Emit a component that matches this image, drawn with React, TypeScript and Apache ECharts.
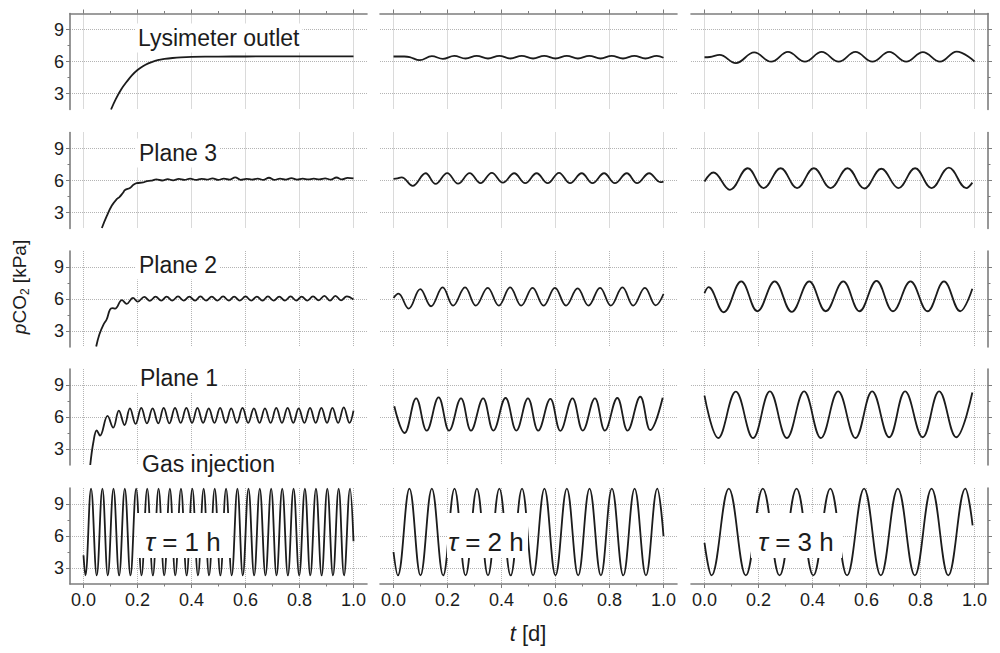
import React, { useEffect, useRef } from 'react';
import * as echarts from 'echarts';

type Pt = [number, number];

const rowLabels = ['Lysimeter outlet', 'Plane 3', 'Plane 2', 'Plane 1', 'Gas injection'];
const periodLabels = ['1 h', '2 h', '3 h'];
const xTicks = [0, 0.2, 0.4, 0.6, 0.8, 1.0];
const xMinorTicks = [0.1, 0.3, 0.5, 0.7, 0.9];
const yTicks = [3, 6, 9];
const yMinorTicks = [4.5, 7.5];

// ---- Lysimeter outlet ----
const lysimeter1h: Pt[] = [
  [0.102, 1.5], [0.12, 2.5], [0.14, 3.4], [0.16, 4.1], [0.18, 4.72], [0.2, 5.2], [0.22, 5.55],
  [0.24, 5.82], [0.26, 6.02], [0.28, 6.15], [0.3, 6.24], [0.33, 6.33], [0.36, 6.39], [0.4, 6.43],
  [0.5, 6.46], [0.6, 6.47], [0.8, 6.48], [1.0, 6.48],
];
const lysimeter2h: Pt[] = [
  [0, 6.47], [0.04, 6.47], [0.06, 6.42], [0.097, 6.12], [0.142, 6.5], [0.183, 6.25], [0.225, 6.52],
  [0.267, 6.28], [0.308, 6.53], [0.35, 6.28], [0.392, 6.53], [0.433, 6.28], [0.475, 6.53], [0.517, 6.28],
  [0.558, 6.53], [0.6, 6.28], [0.642, 6.53], [0.683, 6.28], [0.725, 6.53], [0.767, 6.28], [0.808, 6.53],
  [0.85, 6.28], [0.892, 6.53], [0.933, 6.28], [0.975, 6.53], [1.0, 6.35],
];
const lysimeter3h: Pt[] = [
  [0, 6.4], [0.02, 6.42], [0.056, 6.62], [0.116, 5.85], [0.184, 6.85], [0.247, 5.98], [0.309, 6.9],
  [0.372, 5.98], [0.434, 6.9], [0.497, 5.98], [0.559, 6.9], [0.622, 5.98], [0.684, 6.9], [0.747, 5.98],
  [0.809, 6.88], [0.872, 5.98], [0.934, 6.92], [1.0, 6.0],
];

// ---- Plane 3 ----
const plane3_1h: Pt[] = [
  [0.068, 1.55], [0.086, 2.65], [0.105, 3.65], [0.123, 4.25], [0.133, 4.45], [0.145, 4.8], [0.154, 5.1],
  [0.172, 5.3], [0.185, 5.6], [0.197, 5.75], [0.221, 5.82], [0.235, 5.95], [0.25, 5.98], [0.27, 6.1],
  [0.291, 6.0], [0.312, 6.12], [0.332, 6.02], [0.353, 6.15], [0.374, 6.05], [0.395, 6.18], [0.416, 6.05],
  [0.437, 6.16], [0.457, 6.08], [0.478, 6.2], [0.499, 6.05], [0.52, 6.18], [0.541, 6.08], [0.562, 6.3],
  [0.582, 6.06], [0.603, 6.16], [0.624, 6.08], [0.645, 6.18], [0.666, 6.05], [0.687, 6.26], [0.707, 6.05],
  [0.728, 6.18], [0.749, 6.08], [0.77, 6.22], [0.791, 6.08], [0.812, 6.18], [0.832, 6.1], [0.853, 6.18],
  [0.874, 6.1], [0.895, 6.2], [0.916, 6.08], [0.937, 6.28], [0.957, 6.1], [0.978, 6.25], [1.0, 6.2],
];
const plane3_2h: Pt[] = [
  [0, 6.15], [0.015, 6.2], [0.029, 6.3], [0.04, 6.2], [0.071, 5.5], [0.119, 6.68], [0.156, 5.68],
  [0.199, 6.7], [0.239, 5.7], [0.282, 6.7], [0.322, 5.75], [0.364, 6.72], [0.405, 5.8], [0.447, 6.68],
  [0.488, 5.75], [0.53, 6.68], [0.571, 5.75], [0.613, 6.72], [0.654, 5.75], [0.697, 6.68], [0.737, 5.75],
  [0.78, 6.68], [0.82, 5.75], [0.864, 6.68], [0.902, 5.75], [0.947, 6.68], [0.988, 5.85], [1.0, 5.9],
];
const plane3_3h: Pt[] = [
  [0, 5.9], [0.033, 6.75], [0.094, 5.13], [0.16, 7.15], [0.219, 5.29], [0.282, 7.15], [0.343, 5.29],
  [0.405, 7.15], [0.467, 5.29], [0.53, 7.15], [0.592, 5.25], [0.655, 7.1], [0.718, 5.29], [0.78, 7.15],
  [0.841, 5.29], [0.905, 7.2], [0.97, 5.29], [0.992, 5.8],
];

// ---- Plane 2 ----
const plane2_1h: Pt[] = [
  [0.047, 1.55], [0.059, 2.7], [0.074, 3.6], [0.086, 4.1], [0.098, 5.0], [0.107, 5.15], [0.117, 5.1],
  [0.142, 5.9], [0.16, 5.55], [0.183, 6.1], [0.201, 5.75], [0.225, 6.2], [0.246, 5.82], [0.267, 6.22],
  [0.288, 5.85], [0.308, 6.22], [0.329, 5.85], [0.35, 6.25], [0.371, 5.85], [0.392, 6.22], [0.413, 5.85],
  [0.433, 6.25], [0.454, 5.85], [0.475, 6.22], [0.496, 5.85], [0.517, 6.25], [0.538, 5.85], [0.558, 6.22],
  [0.579, 5.85], [0.6, 6.25], [0.621, 5.85], [0.642, 6.22], [0.663, 5.85], [0.683, 6.25], [0.704, 5.85],
  [0.725, 6.22], [0.746, 5.85], [0.767, 6.25], [0.788, 5.85], [0.808, 6.22], [0.829, 5.85], [0.85, 6.25],
  [0.871, 5.88], [0.892, 6.3], [0.913, 5.85], [0.933, 6.3], [0.954, 5.88], [0.975, 6.25], [1.0, 5.95],
];
const plane2_2h: Pt[] = [
  [0, 6.1], [0.018, 6.5], [0.056, 5.1], [0.099, 6.93], [0.139, 5.32], [0.182, 7.09], [0.221, 5.38],
  [0.265, 7.09], [0.305, 5.38], [0.349, 7.05], [0.39, 5.38], [0.432, 7.09], [0.473, 5.38], [0.515, 7.05],
  [0.556, 5.38], [0.598, 7.05], [0.639, 5.38], [0.682, 7.0], [0.722, 5.38], [0.765, 7.05], [0.805, 5.38],
  [0.848, 7.09], [0.888, 5.38], [0.931, 7.05], [0.971, 5.4], [1.0, 6.47],
];
const plane2_3h: Pt[] = [
  [0, 6.56], [0.015, 7.12], [0.071, 4.76], [0.136, 7.65], [0.196, 4.85], [0.26, 7.65], [0.323, 4.8],
  [0.388, 7.65], [0.449, 4.85], [0.514, 7.65], [0.574, 4.85], [0.637, 7.7], [0.698, 4.85], [0.763, 7.65],
  [0.826, 4.85], [0.887, 7.65], [0.947, 4.85], [0.992, 6.96],
];

// ---- Plane 1 ----
const plane1_1h: Pt[] = [
  [0.025, 1.5], [0.037, 3.7], [0.049, 4.75], [0.061, 4.25], [0.089, 6.1], [0.11, 5.0], [0.131, 6.6],
  [0.152, 5.25], [0.172, 6.8], [0.193, 5.35], [0.214, 6.85], [0.235, 5.4], [0.256, 6.8], [0.277, 5.4],
  [0.297, 6.85], [0.318, 5.4], [0.339, 6.85], [0.36, 5.45], [0.381, 6.85], [0.402, 5.45], [0.422, 6.85],
  [0.443, 5.45], [0.464, 6.8], [0.485, 5.45], [0.506, 6.85], [0.527, 5.45], [0.547, 6.8], [0.568, 5.45],
  [0.589, 6.85], [0.61, 5.45], [0.631, 6.8], [0.652, 5.45], [0.672, 6.8], [0.693, 5.45], [0.714, 6.85],
  [0.735, 5.45], [0.756, 6.85], [0.777, 5.45], [0.797, 6.8], [0.818, 5.45], [0.839, 6.85], [0.86, 5.45],
  [0.881, 6.85], [0.902, 5.45], [0.922, 6.85], [0.943, 5.45], [0.964, 6.9], [0.985, 5.45], [1.0, 6.6],
];
const plane1_2h: Pt[] = [
  [0.003, 7.0], [0.041, 4.5], [0.084, 7.75], [0.123, 4.72], [0.167, 7.84], [0.206, 4.72], [0.25, 7.75],
  [0.287, 4.72], [0.332, 7.75], [0.37, 4.72], [0.415, 7.78], [0.455, 4.72], [0.498, 7.75], [0.536, 4.72],
  [0.581, 7.7], [0.618, 4.7], [0.663, 7.75], [0.701, 4.72], [0.746, 7.75], [0.783, 4.72], [0.829, 7.78],
  [0.867, 4.72], [0.914, 7.9], [0.951, 4.78], [0.997, 7.8],
];
const plane1_3h: Pt[] = [
  [0, 8.0], [0.051, 4.03], [0.116, 8.37], [0.18, 4.03], [0.242, 8.4], [0.305, 4.03], [0.369, 8.4],
  [0.431, 4.03], [0.495, 8.4], [0.559, 4.03], [0.621, 8.4], [0.684, 4.1], [0.743, 8.4], [0.808, 4.1],
  [0.869, 8.4], [0.932, 4.1], [0.992, 8.3],
];

// ---- Gas injection ----
const gas1h: Pt[] = [
  [0, 4.2], [0.007, 2.3], [0.028, 10.45], [0.049, 2.3], [0.07, 10.45], [0.09, 2.3], [0.111, 10.45],
  [0.132, 2.3], [0.153, 10.45], [0.174, 2.3], [0.195, 10.45], [0.215, 2.3], [0.236, 10.45], [0.257, 2.3],
  [0.278, 10.45], [0.299, 2.3], [0.32, 10.45], [0.34, 2.3], [0.361, 10.45], [0.382, 2.3], [0.403, 10.45],
  [0.424, 2.3], [0.445, 10.45], [0.465, 2.3], [0.486, 10.45], [0.507, 2.3], [0.528, 10.45], [0.549, 2.3],
  [0.57, 10.45], [0.59, 2.3], [0.611, 10.45], [0.632, 2.3], [0.653, 10.45], [0.674, 2.3], [0.695, 10.45],
  [0.715, 2.3], [0.736, 10.45], [0.757, 2.3], [0.778, 10.45], [0.799, 2.3], [0.82, 10.45], [0.84, 2.3],
  [0.861, 10.45], [0.882, 2.3], [0.903, 10.45], [0.924, 2.3], [0.945, 10.45], [0.965, 2.3], [0.987, 10.45],
  [1.0, 5.5],
];
const gas2h: Pt[] = [
  [0, 4.5], [0.016, 2.3], [0.059, 10.45], [0.1, 2.3], [0.142, 10.45], [0.184, 2.3], [0.226, 10.45],
  [0.267, 2.3], [0.309, 10.45], [0.35, 2.3], [0.392, 10.45], [0.434, 2.3], [0.476, 10.45], [0.517, 2.3],
  [0.559, 10.45], [0.6, 2.3], [0.642, 10.45], [0.684, 2.3], [0.726, 10.45], [0.768, 2.3], [0.809, 10.45],
  [0.851, 2.3], [0.893, 10.45], [0.935, 2.3], [0.977, 10.45], [1.0, 6.0],
];
const gas3h: Pt[] = [
  [0, 5.35], [0.026, 2.3], [0.09, 10.45], [0.153, 2.3], [0.216, 10.45], [0.278, 2.3], [0.341, 10.45],
  [0.403, 2.3], [0.466, 10.45], [0.528, 2.3], [0.591, 10.45], [0.653, 2.3], [0.716, 10.45], [0.779, 2.3],
  [0.841, 10.45], [0.903, 2.3], [0.966, 10.45], [0.993, 7.0],
];

const panels: Pt[][][] = [
  [lysimeter1h, lysimeter2h, lysimeter3h],
  [plane3_1h, plane3_2h, plane3_3h],
  [plane2_1h, plane2_2h, plane2_3h],
  [plane1_1h, plane1_2h, plane1_3h],
  [gas1h, gas2h, gas3h],
];

// ---- layout ----
const GRID_LEFTS = [70, 380, 691];
const GRID_W = 297;
const GRID_TOPS = [13.5, 132.5, 251, 369, 488];
const GRID_H = 96;
const LABEL_POS: Pt[] = [[135, 38], [136, 153], [136, 265], [137, 378], [139, 464]];
const TAU_BOX = [
  { x: 137, w: 95, cx: 183 },
  { x: 447, w: 81, cx: 486 },
  { x: 751, w: 91, cx: 796 },
];

const FONT = "'Liberation Sans', Arial, Helvetica, sans-serif";
const AX = '#7d7d7d';
const GRIDC = '#b4b4b4';
const TXT = '#1c1c1c';

export default function App() {
  const ref = useRef<HTMLDivElement>(null);

  useEffect(() => {
    if (!ref.current) return;
    const chart = echarts.init(ref.current, null, { renderer: 'svg' });

    const grids: any[] = [];
    const xAxes: any[] = [];
    const yAxes: any[] = [];
    const series: any[] = [];

    for (let r = 0; r < 5; r++) {
      for (let c = 0; c < 3; c++) {
        const i = r * 3 + c;
        grids.push({ left: GRID_LEFTS[c], top: GRID_TOPS[r], width: GRID_W, height: GRID_H });
        const xEdge = r === 0 || r === 4;
        xAxes.push({
          type: 'value',
          gridIndex: i,
          min: -0.05,
          max: 1.05,
          position: r === 0 ? 'top' : 'bottom',
          axisLine: { show: xEdge, onZero: false, lineStyle: { color: AX, width: 1.6 } },
          axisTick: { show: xEdge, customValues: xTicks, length: 4, inside: false, lineStyle: { color: AX, width: 1 } },
          axisLabel: {
            show: r === 4,
            customValues: xTicks,
            formatter: (v: number) => v.toFixed(1),
            margin: 7,
            fontSize: 18,
            fontFamily: FONT,
            color: TXT,
          },
          splitLine: { show: true, lineStyle: { type: 'dotted', color: GRIDC, width: 1 } },
        });
        const yEdge = c === 0 || c === 2;
        yAxes.push({
          type: 'value',
          gridIndex: i,
          min: 1.5,
          max: 10.5,
          position: c === 2 ? 'right' : 'left',
          axisLine: { show: yEdge, onZero: false, lineStyle: { color: AX, width: 1.6 } },
          axisTick: { show: yEdge, customValues: yTicks, length: 4, inside: false, lineStyle: { color: AX, width: 1 } },
          axisLabel: {
            show: c === 0,
            customValues: yTicks,
            margin: 6,
            fontSize: 18,
            fontFamily: FONT,
            color: TXT,
          },
          splitLine: { show: true, lineStyle: { type: 'dotted', color: GRIDC, width: 1 } },
        });
        series.push({
          type: 'line',
          xAxisIndex: i,
          yAxisIndex: i,
          data: panels[r][c],
          showSymbol: false,
          smooth: 0.4,
          silent: true,
          clip: true,
          lineStyle: { color: TXT, width: 1.8 },
        });
      }
    }

    // minor ticks on the frame edges
    for (let r = 0; r < 5; r++) {
      for (let c = 0; c < 3; c++) {
        const i = r * 3 + c;
        if (r === 0 || r === 4) {
          xAxes.push({
            type: 'value',
            gridIndex: i,
            min: -0.05,
            max: 1.05,
            position: r === 0 ? 'top' : 'bottom',
            axisLine: { show: false, onZero: false },
            axisTick: { show: true, customValues: xMinorTicks, length: 2.5, lineStyle: { color: AX, width: 1 } },
            axisLabel: { show: false },
            splitLine: { show: false },
          });
        }
        if (c === 0 || c === 2) {
          yAxes.push({
            type: 'value',
            gridIndex: i,
            min: 1.5,
            max: 10.5,
            position: c === 2 ? 'right' : 'left',
            axisLine: { show: false, onZero: false },
            axisTick: { show: true, customValues: yMinorTicks, length: 2.5, lineStyle: { color: AX, width: 1 } },
            axisLabel: { show: false },
            splitLine: { show: false },
          });
        }
      }
    }

    const graphic: any[] = [];
    rowLabels.forEach((t, r) => {
      graphic.push({
        type: 'text',
        x: LABEL_POS[r][0],
        y: LABEL_POS[r][1],
        z: 100,
        style: {
          text: t,
          fontSize: 23,
          fontFamily: FONT,
          fill: TXT,
          backgroundColor: '#ffffff',
          padding: [4, 3, 2, 3],
          align: 'left',
          verticalAlign: 'middle',
        },
      });
    });
    periodLabels.forEach((t, c) => {
      const b = TAU_BOX[c];
      graphic.push({
        type: 'rect',
        z: 99,
        shape: { x: b.x, y: 513, width: b.w, height: 45 },
        style: { fill: '#ffffff' },
      });
      graphic.push({
        type: 'text',
        x: b.cx,
        y: 542,
        z: 100,
        style: {
          text: '{t|τ} = ' + t,
          rich: { t: { fontStyle: 'italic', fontSize: 26, fontFamily: FONT, fill: TXT } },
          fontSize: 26,
          fontFamily: FONT,
          fill: TXT,
          align: 'center',
          verticalAlign: 'middle',
        },
      });
    });
    graphic.push({
      type: 'text',
      x: 19,
      y: 287,
      rotation: Math.PI / 2,
      z: 100,
      style: {
        text: '{i|p}{n|CO}{s|2}{n| [kPa]}',
        rich: {
          i: { fontStyle: 'italic', fontSize: 19, lineHeight: 24, fontFamily: FONT, fill: TXT },
          n: { fontSize: 19, lineHeight: 24, fontFamily: FONT, fill: TXT },
          s: { fontSize: 12, lineHeight: 12, verticalAlign: 'bottom', fontFamily: FONT, fill: TXT },
        },
        align: 'center',
        verticalAlign: 'middle',
      },
    });
    graphic.push({
      type: 'text',
      x: 528,
      y: 633,
      z: 100,
      style: {
        text: '{i|t}{n| [d]}',
        rich: {
          i: { fontStyle: 'italic', fontSize: 22, fontFamily: FONT, fill: TXT },
          n: { fontSize: 22, fontFamily: FONT, fill: TXT },
        },
        align: 'center',
        verticalAlign: 'middle',
      },
    });

    chart.setOption({
      animation: false,
      backgroundColor: '#ffffff',
      grid: grids,
      xAxis: xAxes,
      yAxis: yAxes,
      series,
      graphic,
    });

    return () => chart.dispose();
  }, []);

  return (
    <div
      ref={ref}
      style={{ position: 'fixed', left: 0, top: 0, width: 1000, height: 653, background: '#fff' }}
    />
  );
}
